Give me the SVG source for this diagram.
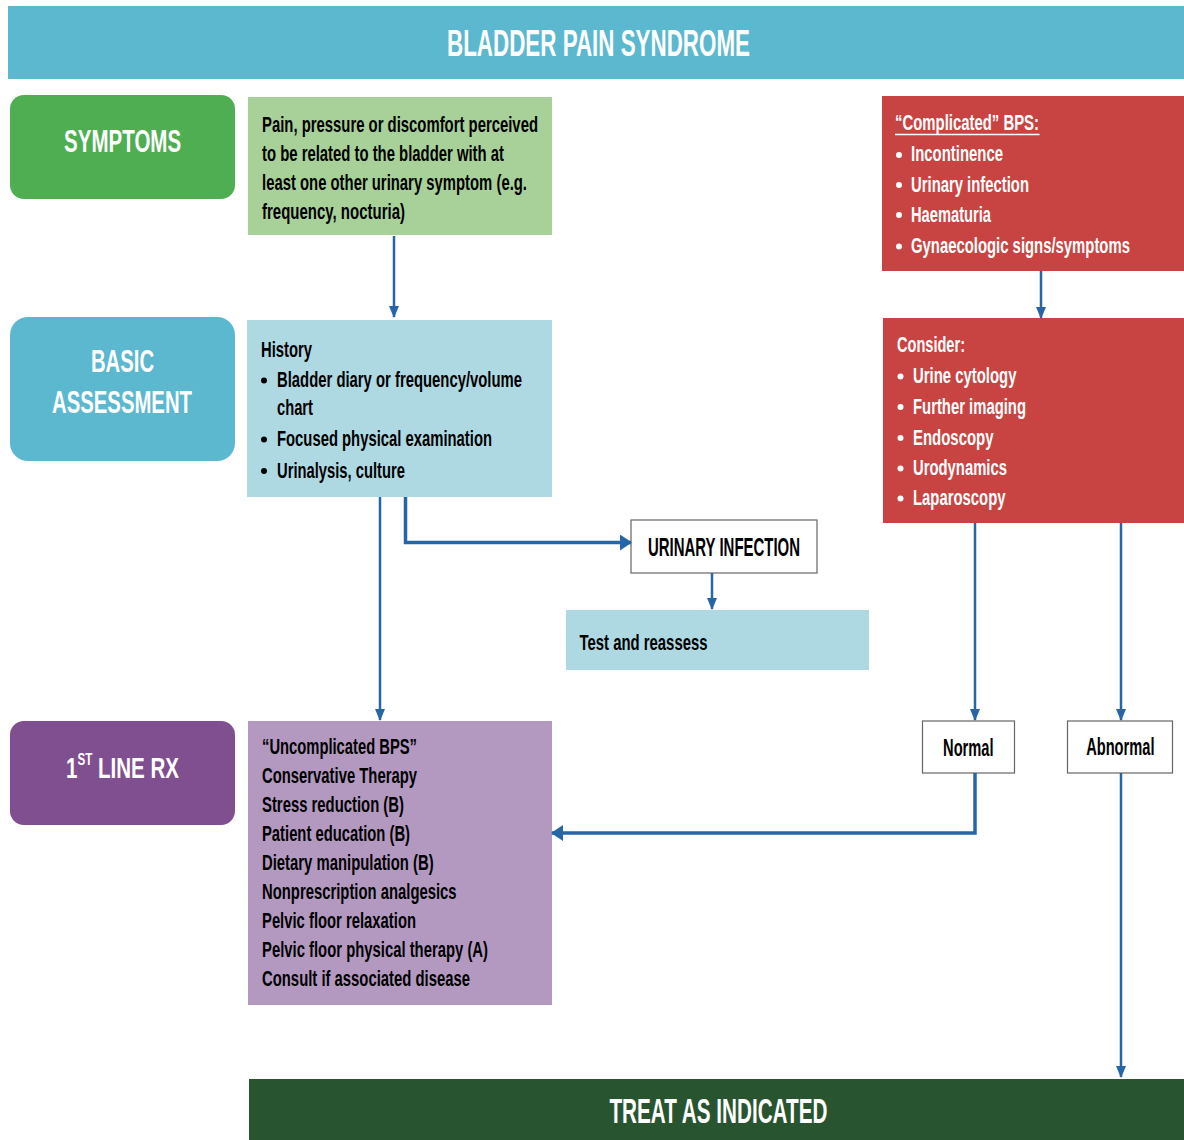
<svg xmlns="http://www.w3.org/2000/svg" width="1184" height="1140" viewBox="0 0 1184 1140">
<style>
text{font-family:"Liberation Sans",Arial,sans-serif;font-weight:bold;}
.w{fill:#fff}
.k{fill:#000}
.hd{font-size:32px;text-anchor:middle}
.bd{font-size:22.5px}
.c{stroke:#2766a6;stroke-width:2.5;fill:none}
.c4{stroke:#2766a6;stroke-width:3.5;fill:none}
.box{stroke:#666;stroke-width:1.2;fill:#fff}
</style>
<defs>
<marker id="ah" viewBox="0 0 12 10" refX="11" refY="5" markerWidth="12" markerHeight="10" markerUnits="userSpaceOnUse" orient="auto"><path d="M0,0 L12,5 L0,10 z" fill="#2766a6"/></marker>
<marker id="ah2" viewBox="0 0 12 16" refX="11" refY="8" markerWidth="12" markerHeight="16" markerUnits="userSpaceOnUse" orient="auto"><path d="M0,0 L12,8 L0,16 z" fill="#2766a6"/></marker>
</defs>
<rect width="1184" height="1140" fill="#fff"/>
<g id="title"><rect x="8" y="6" width="1176" height="73" fill="#5bb8cf"/><text class="w" x="598.5" y="56" font-size="37" text-anchor="middle" textLength="303" lengthAdjust="spacingAndGlyphs">BLADDER PAIN SYNDROME</text></g>
<g id="symptoms"><rect x="10" y="95" width="225" height="104" rx="14" fill="#4fad52"/><text class="w hd" x="122.6" y="152" textLength="117" lengthAdjust="spacingAndGlyphs">SYMPTOMS</text></g>
<g id="symptoms-text"><rect x="248" y="97" width="304" height="138" fill="#a8d19a"/>
<text class="k bd" x="262" y="131.5" textLength="276" lengthAdjust="spacingAndGlyphs">Pain, pressure or discomfort perceived</text>
<text class="k bd" x="262" y="160.5" textLength="242" lengthAdjust="spacingAndGlyphs">to be related to the bladder with at</text>
<text class="k bd" x="262" y="189.5" textLength="265" lengthAdjust="spacingAndGlyphs">least one other urinary symptom (e.g.</text>
<text class="k bd" x="262" y="218.5" textLength="143" lengthAdjust="spacingAndGlyphs">frequency, nocturia)</text></g>
<g id="basic"><rect x="10" y="317" width="225" height="144" rx="18" fill="#5bb8cf"/><text class="w hd" x="122.5" y="372" textLength="63" lengthAdjust="spacingAndGlyphs">BASIC</text><text class="w hd" x="122" y="413" textLength="140" lengthAdjust="spacingAndGlyphs">ASSESSMENT</text></g>
<g id="basic-text"><rect x="247" y="320" width="305" height="177" fill="#aed9e3"/>
<text class="k bd" x="261" y="356.5" textLength="51" lengthAdjust="spacingAndGlyphs">History</text>
<circle cx="264" cy="380.5" r="3" fill="#000"/><text class="k bd" x="277" y="387" textLength="245" lengthAdjust="spacingAndGlyphs">Bladder diary or frequency/volume</text>
<text class="k bd" x="277" y="415" textLength="36" lengthAdjust="spacingAndGlyphs">chart</text>
<circle cx="264" cy="439.5" r="3" fill="#000"/><text class="k bd" x="277" y="446" textLength="215" lengthAdjust="spacingAndGlyphs">Focused physical examination</text>
<circle cx="264" cy="471" r="3" fill="#000"/><text class="k bd" x="277" y="477.5" textLength="128" lengthAdjust="spacingAndGlyphs">Urinalysis, culture</text></g>
<g id="urinary-infection"><rect class="box" x="631" y="520" width="186" height="53"/><text class="k" x="724" y="556" font-size="25" text-anchor="middle" textLength="152" lengthAdjust="spacingAndGlyphs">URINARY INFECTION</text></g>
<g id="test"><rect x="566" y="610" width="303" height="60" fill="#aed9e3"/><text class="k bd" x="579.5" y="650" textLength="128" lengthAdjust="spacingAndGlyphs">Test and reassess</text></g>
<g id="complicated"><rect x="882" y="96" width="302" height="175" fill="#c84442"/>
<text class="w bd" x="895" y="130" textLength="144" lengthAdjust="spacingAndGlyphs">“Complicated” BPS:</text>
<line x1="895" y1="134.5" x2="1039.5" y2="134.5" stroke="#fff" stroke-width="1.6"/>
<circle cx="899" cy="155" r="3" fill="#fff"/><text class="w bd" x="911" y="161" textLength="92" lengthAdjust="spacingAndGlyphs">Incontinence</text>
<circle cx="899" cy="185" r="3" fill="#fff"/><text class="w bd" x="911" y="191.5" textLength="118" lengthAdjust="spacingAndGlyphs">Urinary infection</text>
<circle cx="899" cy="215" r="3" fill="#fff"/><text class="w bd" x="911" y="221.5" textLength="80" lengthAdjust="spacingAndGlyphs">Haematuria</text>
<circle cx="899" cy="246.5" r="3" fill="#fff"/><text class="w bd" transform="translate(911,253) scale(0.661,1)">Gynaecologic signs/symptoms</text></g>
<g id="consider"><rect x="883" y="318" width="301" height="205" fill="#c84442"/>
<text class="w bd" x="897" y="351.5" textLength="68" lengthAdjust="spacingAndGlyphs">Consider:</text>
<circle cx="900.5" cy="376.5" r="3" fill="#fff"/><text class="w bd" x="913" y="383" textLength="103.5" lengthAdjust="spacingAndGlyphs">Urine cytology</text>
<circle cx="900.5" cy="407" r="3" fill="#fff"/><text class="w bd" x="913" y="413.5" textLength="113" lengthAdjust="spacingAndGlyphs">Further imaging</text>
<circle cx="900.5" cy="438" r="3" fill="#fff"/><text class="w bd" x="913" y="444.5" textLength="80.5" lengthAdjust="spacingAndGlyphs">Endoscopy</text>
<circle cx="900.5" cy="468.5" r="3" fill="#fff"/><text class="w bd" x="913" y="475" textLength="94" lengthAdjust="spacingAndGlyphs">Urodynamics</text>
<circle cx="900.5" cy="498.5" r="3" fill="#fff"/><text class="w bd" x="913" y="505" textLength="92.5" lengthAdjust="spacingAndGlyphs">Laparoscopy</text></g>
<g id="normal"><rect class="box" x="922.5" y="721" width="92" height="52"/><text class="k" x="968.3" y="756" font-size="23" text-anchor="middle" textLength="50.5" lengthAdjust="spacingAndGlyphs">Normal</text></g>
<g id="abnormal"><rect class="box" x="1067.5" y="721" width="105" height="52"/><text class="k" transform="translate(1120.3,755) scale(0.6365,1)" font-size="23" text-anchor="middle">Abnormal</text></g>
<g id="first-line"><rect x="10" y="721" width="225" height="104" rx="14" fill="#7f4f8f"/>
<text class="w" transform="translate(66,778) scale(0.685,1)" font-size="30">1<tspan font-size="17" dy="-13">ST</tspan><tspan dy="13"> LINE RX</tspan></text></g>
<g id="first-line-text"><rect x="248" y="721" width="304" height="284" fill="#b399c0"/>
<text class="k bd" x="262" y="754" textLength="155" lengthAdjust="spacingAndGlyphs">“Uncomplicated BPS”</text>
<text class="k bd" x="262" y="783" textLength="155" lengthAdjust="spacingAndGlyphs">Conservative Therapy</text>
<text class="k bd" x="262" y="811.5" textLength="142" lengthAdjust="spacingAndGlyphs">Stress reduction (B)</text>
<text class="k bd" x="262" y="841" textLength="148" lengthAdjust="spacingAndGlyphs">Patient education (B)</text>
<text class="k bd" x="262" y="870" textLength="171.6" lengthAdjust="spacingAndGlyphs">Dietary manipulation (B)</text>
<text class="k bd" x="262" y="899" textLength="194.6" lengthAdjust="spacingAndGlyphs">Nonprescription analgesics</text>
<text class="k bd" x="262" y="928" textLength="154" lengthAdjust="spacingAndGlyphs">Pelvic floor relaxation</text>
<text class="k bd" x="262" y="957" textLength="226" lengthAdjust="spacingAndGlyphs">Pelvic floor physical therapy (A)</text>
<text class="k bd" x="262" y="986" textLength="208" lengthAdjust="spacingAndGlyphs">Consult if associated disease</text></g>
<g id="treat"><rect x="249" y="1079" width="935" height="61" fill="#28552f"/><text class="w" x="718.4" y="1123" font-size="35" text-anchor="middle" textLength="218" lengthAdjust="spacingAndGlyphs">TREAT AS INDICATED</text></g>
<g id="connectors">
<path class="c" d="M394,236 V317" marker-end="url(#ah)"/>
<path class="c4" d="M405.5,497 V542.5 H631" marker-end="url(#ah2)"/>
<path class="c" d="M380,497 V720" marker-end="url(#ah)"/>
<path class="c" d="M712,573 V609" marker-end="url(#ah)"/>
<path class="c" d="M1041,271 V318" marker-end="url(#ah)"/>
<path class="c" d="M975,523 V720" marker-end="url(#ah)"/>
<path class="c" d="M1121,523 V720" marker-end="url(#ah)"/>
<path class="c4" d="M975,773 V833 H552" marker-end="url(#ah2)"/>
<path class="c" d="M1121,773 V1077" marker-end="url(#ah)"/>
</g>
</svg>
